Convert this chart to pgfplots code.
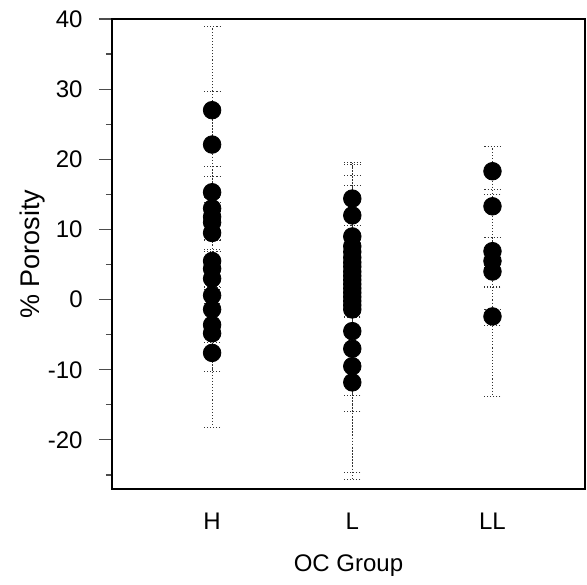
\documentclass[border=0pt]{standalone}
\usepackage{pgfplots}
\pgfplotsset{compat=1.18}
\usepackage{pgfplotstable}
\usepackage{fontspec}
\setmainfont{Liberation Sans}

\pgfplotstableread{
x y ep em
1 27.0 11.9 11.9
1 22.1 7.6 7.6
1 15.3 3.7 3.7
1 13.0 4.6 4.6
1 11.8 2.0 2.0
1 11.0 1.5 1.5
1 9.5 2.3 2.3
1 5.5 3.0 3.0
1 4.4 2.5 2.5
1 3.0 1.5 1.5
1 0.6 1.1 1.1
1 -1.4 2.0 2.0
1 -3.6 2.5 2.5
1 -4.8 5.4 5.4
1 -7.6 10.6 10.6
}\groupH

\pgfplotstableread{
x y ep em
2 14.4 5.2 5.2
2 12.0 7.3 7.3
2 9.0 8.7 8.7
2 7.6 8.7 8.7
2 6.8 3.7 3.7
2 6.0 1.5 1.5
2 5.3 1.2 1.2
2 4.7 2.0 2.0
2 4.0 1.5 1.5
2 3.4 1.0 1.0
2 2.8 2.0 2.0
2 2.2 1.5 1.5
2 1.6 1.0 1.0
2 1.0 2.0 2.0
2 0.4 1.5 1.5
2 -0.2 1.0 1.0
2 -0.8 1.7 1.7
2 -1.4 1.0 1.0
2 -4.5 9.2 9.2
2 -7.0 8.9 8.9
2 -9.5 15.2 15.2
2 -11.8 13.8 13.8
}\groupL

\pgfplotstableread{
x y ep em
3 18.3 3.5 3.3
3 13.3 2.4 11.5
3 6.9 2.0 2.0
3 5.5 1.0 1.0
3 4.0 1.5 7.7
3 -2.4 1.0 11.4
}\groupLL

\pgfplotsset{
  dotbar/.style={
    only marks, mark=*, mark size=4.4pt, black,
    mark options={fill=black, draw=black, solid},
    error bars/.cd,
      y dir=both, y explicit,
      error bar style={black!80, line width=0.55pt, densely dotted},
      error mark options={rotate=90, mark size=4pt, black!80, line width=0.55pt, densely dotted},
  },
}

\begin{document}
\fontsize{12}{14}\selectfont
\begin{tikzpicture}
\begin{axis}[
  scale only axis,
  width=236.5pt, height=235pt,
  xmin=0.286, xmax=3.66,
  ymin=-27, ymax=40,
  xtick={1,2,3},
  xticklabels={H,L,LL},
  x tick style={draw=none},
  xticklabel style={yshift=-1.5pt},
  ytick={-20,-10,0,10,20,30,40},
  yticklabels={-20,-10,0,10,20,30,40},
  minor ytick={-25,-15,-5,5,15,25,35},
  ytick pos=left,
  tick align=outside,
  major tick length=6.5pt,
  minor tick length=3pt,
  y tick style={black!70, line width=0.6pt},
  yticklabel style={xshift=-4pt},
  axis line style={line width=1.4pt},
  xlabel={OC Group},
  ylabel={\fontsize{13.5}{16}\selectfont\% Porosity},
  xlabel style={at={(axis description cs:0.5,-0.163)}, anchor=center},
  ylabel style={at={(axis description cs:-0.169,0.5)}, anchor=center},
]
\addplot[dotbar] table[x=x, y=y, y error plus=ep, y error minus=em] {\groupH};
\addplot[dotbar] table[x=x, y=y, y error plus=ep, y error minus=em] {\groupL};
\addplot[dotbar] table[x=x, y=y, y error plus=ep, y error minus=em] {\groupLL};
\end{axis}
\path (current axis.south west) ++(-56pt,-45pt) coordinate (bbA);
\path (current axis.north east) ++(1pt,9.5pt) coordinate (bbB);
\path (bbA) rectangle (bbB);
\end{tikzpicture}
\end{document}
